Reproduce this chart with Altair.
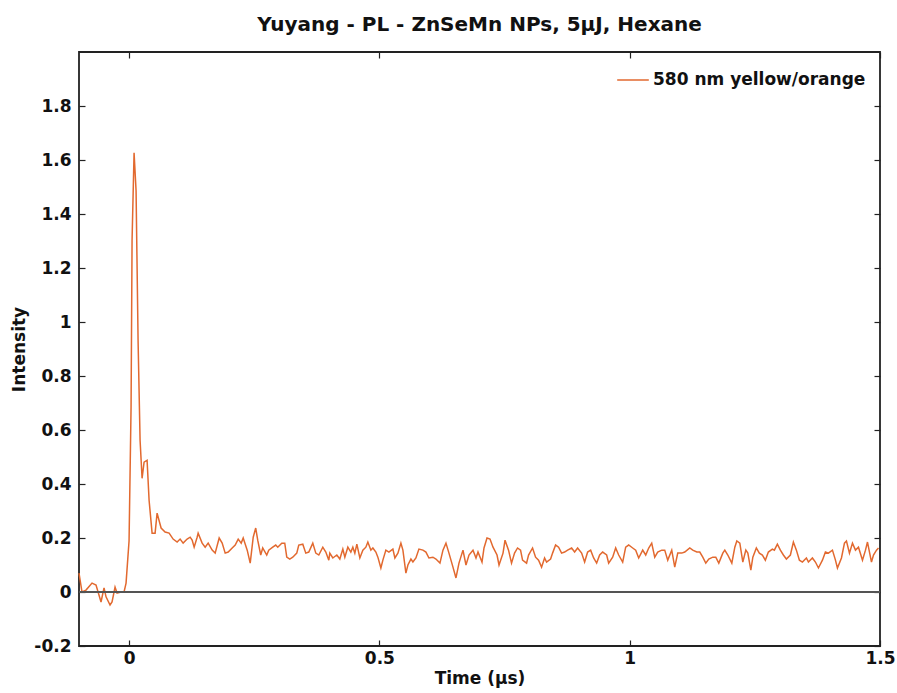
import altair as alt
import pandas as pd

# ---- data ----
time_us = [
    -0.100, -0.094, -0.086, -0.074, -0.066, -0.056, -0.050, -0.046, -0.038, -0.034,
    -0.028, -0.024, -0.016, -0.010, -0.006, 0.000, 0.004, 0.006, 0.010, 0.014,
    0.018, 0.022, 0.026, 0.030, 0.036, 0.040, 0.046, 0.052, 0.056, 0.064,
    0.072, 0.080, 0.088, 0.096, 0.102, 0.108, 0.116, 0.122, 0.126, 0.130,
    0.136, 0.138, 0.146, 0.152, 0.158, 0.166, 0.172, 0.180, 0.186, 0.192,
    0.198, 0.206, 0.212, 0.218, 0.224, 0.228, 0.236, 0.242, 0.248, 0.253,
    0.257, 0.263, 0.267, 0.275, 0.279, 0.287, 0.293, 0.297, 0.305, 0.311,
    0.315, 0.321, 0.327, 0.335, 0.339, 0.347, 0.353, 0.359, 0.367, 0.373,
    0.379, 0.387, 0.393, 0.399,
    0.401, 0.407, 0.415, 0.421, 0.427, 0.431, 0.437, 0.443, 0.447, 0.451,
    0.455, 0.461, 0.467, 0.473, 0.477, 0.483, 0.487, 0.493, 0.497, 0.503,
    0.507, 0.513, 0.519, 0.527, 0.531, 0.537, 0.543, 0.547, 0.553, 0.557,
    0.563, 0.567, 0.573, 0.579, 0.587, 0.593, 0.599, 0.607, 0.613, 0.621,
    0.627, 0.633, 0.639, 0.647, 0.653, 0.659, 0.667, 0.673, 0.679, 0.687,
    0.693, 0.697, 0.705, 0.709, 0.715,
    0.721, 0.727, 0.735, 0.739, 0.747, 0.751, 0.758, 0.764, 0.770, 0.776,
    0.782, 0.786, 0.794, 0.798, 0.806, 0.812, 0.818, 0.824, 0.830, 0.834,
    0.842, 0.846, 0.852, 0.858, 0.864, 0.870, 0.876, 0.884, 0.890, 0.896,
    0.904, 0.910, 0.916, 0.922, 0.928, 0.934, 0.940, 0.946, 0.954, 0.958,
    0.966, 0.972, 0.978, 0.986, 0.992, 0.998, 1.006, 1.012, 1.018, 1.026,
    1.032, 1.038, 1.044, 1.050, 1.056, 1.064, 1.070, 1.076, 1.084, 1.090,
    1.096, 1.104, 1.110,
    1.120, 1.126, 1.134, 1.140, 1.146, 1.152, 1.158, 1.166, 1.172, 1.178,
    1.186, 1.190, 1.196, 1.204, 1.210, 1.214, 1.220, 1.226, 1.232, 1.236,
    1.242, 1.246, 1.253, 1.259, 1.265, 1.271, 1.277, 1.285, 1.289, 1.295,
    1.301, 1.307, 1.313, 1.321, 1.327, 1.333, 1.339, 1.345, 1.353, 1.357,
    1.365, 1.371, 1.377, 1.385, 1.391, 1.397, 1.405, 1.411, 1.415, 1.423,
    1.429, 1.433, 1.439, 1.445, 1.451, 1.457, 1.465, 1.471, 1.475, 1.483,
    1.487, 1.493, 1.497,
]

intensity = [
    0.070, 0.000, 0.007, 0.033, 0.026, -0.037, 0.015, -0.018, -0.048, -0.037,
    0.018, -0.004, 0.000, 0.000, 0.033, 0.190, 0.684, 1.301, 1.627, 1.486,
    0.932, 0.562, 0.421, 0.481, 0.488, 0.340, 0.218, 0.218, 0.292, 0.237,
    0.222, 0.218, 0.196, 0.185, 0.196, 0.181, 0.196, 0.203, 0.192, 0.166,
    0.203, 0.218, 0.181, 0.166, 0.181, 0.155, 0.144, 0.200, 0.181, 0.144,
    0.148, 0.163, 0.174, 0.196, 0.181, 0.200, 0.155, 0.107, 0.203, 0.237,
    0.192, 0.137, 0.163, 0.137, 0.155, 0.166, 0.174, 0.166, 0.181, 0.181,
    0.129, 0.122, 0.129, 0.144, 0.174, 0.177, 0.144, 0.148, 0.181, 0.144,
    0.137, 0.166, 0.148, 0.118,
    0.144, 0.126, 0.137, 0.122, 0.159, 0.129, 0.166, 0.148, 0.166, 0.144,
    0.177, 0.126, 0.155, 0.166, 0.185, 0.155, 0.163, 0.148, 0.129, 0.089,
    0.118, 0.155, 0.148, 0.159, 0.126, 0.144, 0.181, 0.155, 0.070, 0.100,
    0.122, 0.111, 0.126, 0.159, 0.155, 0.148, 0.126, 0.129, 0.122, 0.107,
    0.155, 0.181, 0.144, 0.092, 0.052, 0.107, 0.155, 0.100, 0.137, 0.155,
    0.126, 0.148, 0.111, 0.163, 0.200,
    0.196, 0.166, 0.137, 0.100, 0.144, 0.192, 0.155, 0.107, 0.144, 0.163,
    0.155, 0.118, 0.107, 0.137, 0.163, 0.129, 0.118, 0.092, 0.126, 0.111,
    0.122, 0.144, 0.174, 0.166, 0.144, 0.148, 0.155, 0.163, 0.148, 0.163,
    0.144, 0.111, 0.148, 0.155, 0.126, 0.107, 0.137, 0.148, 0.137, 0.107,
    0.129, 0.163, 0.137, 0.111, 0.166, 0.174, 0.163, 0.155, 0.126, 0.155,
    0.137, 0.163, 0.181, 0.129, 0.148, 0.155, 0.155, 0.118, 0.155, 0.092,
    0.144, 0.144, 0.148,
    0.163, 0.155, 0.148, 0.148, 0.129, 0.107, 0.122, 0.129, 0.129, 0.107,
    0.144, 0.155, 0.137, 0.107, 0.166, 0.189, 0.181, 0.111, 0.155, 0.144,
    0.081, 0.129, 0.163, 0.144, 0.137, 0.118, 0.148, 0.159, 0.155, 0.177,
    0.155, 0.137, 0.122, 0.137, 0.185, 0.155, 0.118, 0.111, 0.126, 0.111,
    0.126, 0.111, 0.089, 0.118, 0.148, 0.144, 0.155, 0.118, 0.089, 0.126,
    0.181, 0.189, 0.144, 0.181, 0.155, 0.166, 0.118, 0.155, 0.185, 0.111,
    0.137, 0.155, 0.163,
]

series_name = "580 nm yellow/orange"
x_ticks = [0, 0.5, 1, 1.5]
y_ticks = [-0.2, 0, 0.2, 0.4, 0.6, 0.8, 1, 1.2, 1.4, 1.6, 1.8]
x_domain = [-0.1, 1.5]
y_domain = [-0.2, 2.0]

df = pd.DataFrame({"t": time_us, "I": intensity, "series": series_name})

FONT = "DejaVu Sans"
LINE_COLOR = "#E2692F"
TXT = "#111111"
label_expr = "replace(format(datum.value, '~g'), '\u2212', '-')"

xscale = alt.Scale(domain=x_domain, nice=False, zero=False)
yscale = alt.Scale(domain=y_domain, nice=False, zero=False)

lab = dict(labelFont=FONT, labelFontSize=17, labelFontWeight="bold",
           labelColor=TXT, titleFont=FONT, titleFontSize=17,
           titleFontWeight="bold", titleColor=TXT)

# main line with labelled axes (no ticks)
line = alt.Chart(df).mark_line(color=LINE_COLOR, strokeWidth=1.5).encode(
    x=alt.X("t:Q", scale=xscale, title="Time (\u03bcs)",
            axis=alt.Axis(values=x_ticks, labelExpr=label_expr, ticks=False,
                          domain=False, grid=False, labelPadding=4,
                          labelFlush=False, titlePadding=4, orient="bottom",
                          **lab)),
    y=alt.Y("I:Q", scale=yscale, title="Intensity",
            axis=alt.Axis(values=y_ticks, labelExpr=label_expr, ticks=False,
                          domain=False, grid=False, labelPadding=8,
                          titlePadding=5, orient="left", **lab)),
    color=alt.Color("series:N",
                    scale=alt.Scale(domain=[series_name], range=[LINE_COLOR]),
                    legend=alt.Legend(title=None, orient="none", legendX=537,
                                      legendY=11, symbolType="stroke",
                                      symbolSize=1000, symbolStrokeWidth=1.5,
                                      labelFont=FONT, labelFontSize=17,
                                      labelFontWeight="bold", labelColor=TXT,
                                      labelLimit=400, labelOffset=3, padding=0)),
)

tick_style = dict(labels=False, ticks=True, tickSize=6, tickColor="#222222",
                  tickWidth=1.2, offset=-6, domain=False, grid=False)

# inward ticks: bottom and left
ticks_bl = alt.Chart(df).mark_line(opacity=0).encode(
    x=alt.X("t:Q", scale=xscale, title=None,
            axis=alt.Axis(values=x_ticks, orient="bottom", **tick_style)),
    y=alt.Y("I:Q", scale=yscale, title=None,
            axis=alt.Axis(values=y_ticks, orient="left", **tick_style)),
)

# inward ticks: top and right
ticks_tr = alt.Chart(df).mark_line(opacity=0).encode(
    x=alt.X("t:Q", scale=xscale, title=None,
            axis=alt.Axis(values=x_ticks, orient="top", **tick_style)),
    y=alt.Y("I:Q", scale=yscale, title=None,
            axis=alt.Axis(values=y_ticks, orient="right", **tick_style)),
)

zero_line = alt.Chart(df).mark_rule(color="#555555", strokeWidth=1.5).encode(
    y=alt.Y(datum=0, scale=yscale, axis=None),
)

chart = (
    alt.layer(line, zero_line, ticks_bl, ticks_tr)
    .resolve_axis(x="independent", y="independent")
    .properties(
        width=801,
        height=594,
        title=alt.Title("Yuyang - PL - ZnSeMn NPs, 5\u03bcJ, Hexane",
                        font=FONT, fontSize=20, fontWeight="bold",
                        color=TXT, offset=16, anchor="middle"),
        autosize=alt.AutoSizeParams(type="none"),
        padding={"left": 79, "top": 52, "right": 17, "bottom": 47},
        background="white",
    )
    .configure_view(stroke="#222222", strokeWidth=1.8)
)

chart.save("out.html", embed_options={"renderer": "svg", "actions": False})
